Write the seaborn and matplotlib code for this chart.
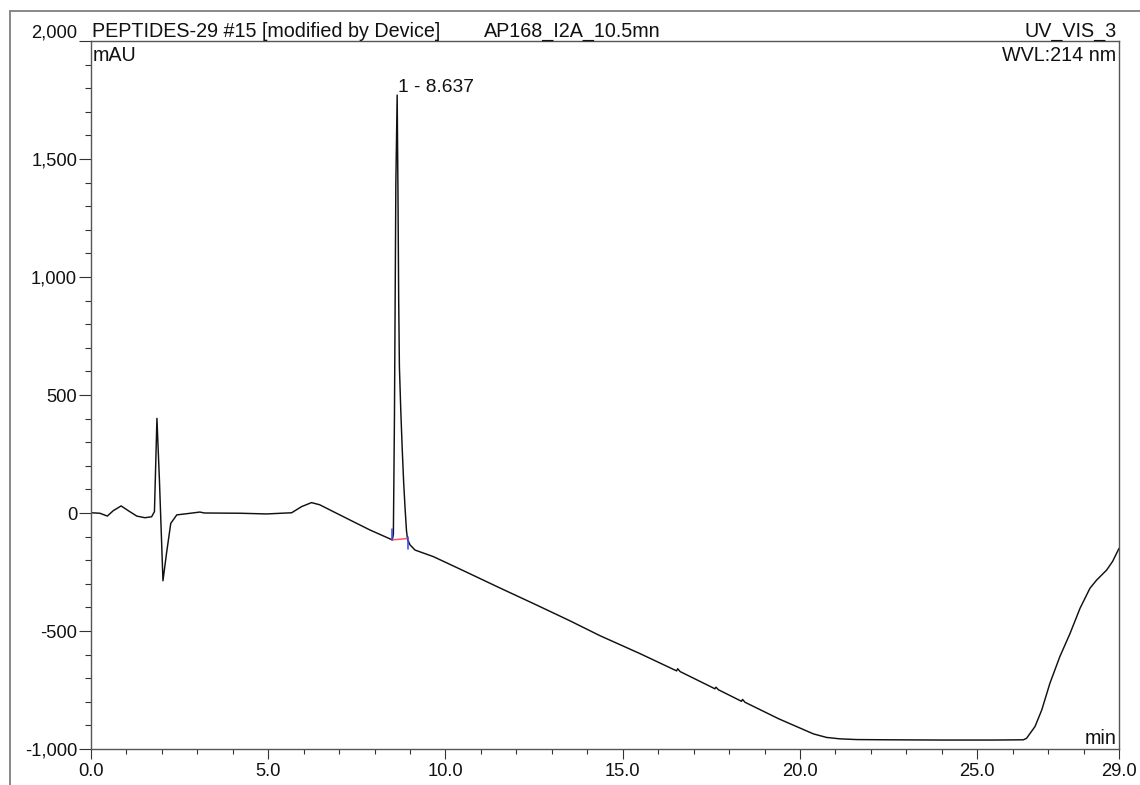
import numpy as np
import pandas as pd
import matplotlib
matplotlib.use("Agg")
import matplotlib.pyplot as plt
import seaborn as sns
from matplotlib.ticker import FixedLocator, FuncFormatter
from matplotlib.lines import Line2D

# ---- data ----
time_min = [0.00, 0.25, 0.46, 0.63, 0.85, 1.05, 1.29, 1.52, 1.71, 1.79, 1.86, 1.93,
            2.03, 2.13, 2.25, 2.42, 2.70, 3.07, 3.20, 4.20, 4.95, 5.66, 5.94, 6.22,
            6.45, 6.74, 7.31, 7.87, 8.50, 8.53, 8.56, 8.60, 8.637, 8.66, 8.68, 8.70,
            8.74, 8.78, 8.82, 8.86, 8.90, 8.93, 9.00, 9.14, 9.66, 10.5, 11.54, 12.5,
            13.5, 14.36, 15.49, 16.45, 16.52, 16.55, 16.62, 17.55, 17.60, 17.63, 17.70,
            18.30, 18.35, 18.38, 18.45, 19.4, 20.38, 20.75, 21.13, 21.6, 22.5, 24.0,
            25.5, 26.30, 26.39, 26.63, 26.82, 27.05, 27.33, 27.62, 27.90, 28.18, 28.37,
            28.65, 28.82, 29.0]
signal_mau = [1, -1, -13, 10, 30, 10, -13, -20, -16, 6, 401, 140,
              -287, -171, -44, -8, -3, 4, 0, -1, -4, 1, 27, 44,
              35, 13, -30, -72, -114, -90, 400, 1400, 1771, 1350, 900, 620,
              430, 270, 130, 20, -75, -112, -135, -157, -185, -244, -318, -385,
              -456, -520, -596, -664, -669, -660, -672, -741, -745, -738, -749,
              -794, -798, -790, -802, -872, -936, -951, -957, -960, -961, -962,
              -962, -961, -955, -905, -835, -722, -609, -510, -404, -319, -284,
              -242, -205, -150]

peak_label = "1 - 8.637"
peak_time = 8.637
baseline_t = [8.50, 8.93]
baseline_v = [-114, -108]

x_ticks = [0.0, 5.0, 10.0, 15.0, 20.0, 25.0, 29.0]
y_ticks = [-1000, -500, 0, 500, 1000, 1500, 2000]

df = pd.DataFrame({"time": time_min, "signal": signal_mau})

sns.set_theme(style="white")
plt.rcParams["font.family"] = ["Liberation Sans", "DejaVu Sans"]

fig = plt.figure(figsize=(11.4, 7.85), dpi=100)
ax = fig.add_axes([91 / 1140, 36 / 785, 1028 / 1140, 708 / 785])

sns.lineplot(data=df, x="time", y="signal", ax=ax, color="#111111",
             linewidth=1.05, sort=False, estimator=None)

# integration baseline marks
ax.plot(baseline_t, baseline_v, color="#ff5a5a", linewidth=1.1)
ax.plot([baseline_t[0], baseline_t[0]], [baseline_v[0], baseline_v[0] + 48],
        color="#3344ff", linewidth=1.1)
ax.plot([baseline_t[1], baseline_t[1]], [baseline_v[1] + 6, baseline_v[1] - 46],
        color="#3344ff", linewidth=1.1)

ax.set_xlim(0, 29)
ax.set_ylim(-1000, 2000)
ax.set_xlabel("")
ax.set_ylabel("")

ax.xaxis.set_major_locator(FixedLocator(x_ticks))
ax.xaxis.set_minor_locator(FixedLocator(list(range(0, 30))))
ax.yaxis.set_major_locator(FixedLocator(y_ticks))
ax.yaxis.set_minor_locator(FixedLocator(list(range(-1000, 2001, 100))))
ax.xaxis.set_major_formatter(FuncFormatter(lambda v, p: f"{v:.1f}"))
ax.yaxis.set_major_formatter(FuncFormatter(lambda v, p: f"{v:,.0f}"))

tick_col = "#333333"
ax.tick_params(axis="both", which="both", direction="out", colors=tick_col,
               labelcolor="#111111", width=0.8, labelsize=13.2)
ax.tick_params(axis="y", which="major", length=8.5, pad=1.5)
ax.tick_params(axis="y", which="minor", length=4.3)
ax.tick_params(axis="x", which="major", length=7.2, pad=3.0)
ax.tick_params(axis="x", which="minor", length=3.6)
ax.tick_params(left=True, bottom=True, which="both")

for s in ax.spines.values():
    s.set_visible(True)
    s.set_color("#555555")
    s.set_linewidth(1.0)

fig.canvas.draw()
for lab in ax.get_yticklabels():
    if lab.get_text() == "2,000":
        lab.set_va("bottom")

# header texts
fs = 14.2
ax.text(0.001, 1.0056, "PEPTIDES-29 #15 [modified by Device]", transform=ax.transAxes,
        ha="left", va="baseline", fontsize=fs, color="#111111")
ax.text(0.382, 1.0056, "AP168_I2A_10.5mn", transform=ax.transAxes,
        ha="left", va="baseline", fontsize=fs, color="#111111")
ax.text(0.9975, 1.0056, "UV_VIS_3", transform=ax.transAxes,
        ha="right", va="baseline", fontsize=fs, color="#111111")
ax.text(0.002, 0.993, "mAU", transform=ax.transAxes, ha="left", va="top",
        fontsize=fs, color="#111111")
ax.text(0.9975, 0.993, "WVL:214 nm", transform=ax.transAxes, ha="right", va="top",
        fontsize=fs, color="#111111")
ax.text(0.9975, 0.007, "min", transform=ax.transAxes, ha="right", va="baseline",
        fontsize=fs, color="#111111")
ax.text(peak_time + 0.03, 1785, peak_label, ha="left", va="baseline",
        fontsize=13.8, color="#111111")

# outer report frame (left and top edges)
fig.add_artist(Line2D([10 / 1140, 10 / 1140], [0, 1 - 11 / 785],
                      transform=fig.transFigure, color="#888888", linewidth=1.4))
fig.add_artist(Line2D([10 / 1140, 1.0], [1 - 11 / 785, 1 - 11 / 785],
                      transform=fig.transFigure, color="#888888", linewidth=1.4))

fig.savefig("out.png", dpi=100, facecolor="white")
